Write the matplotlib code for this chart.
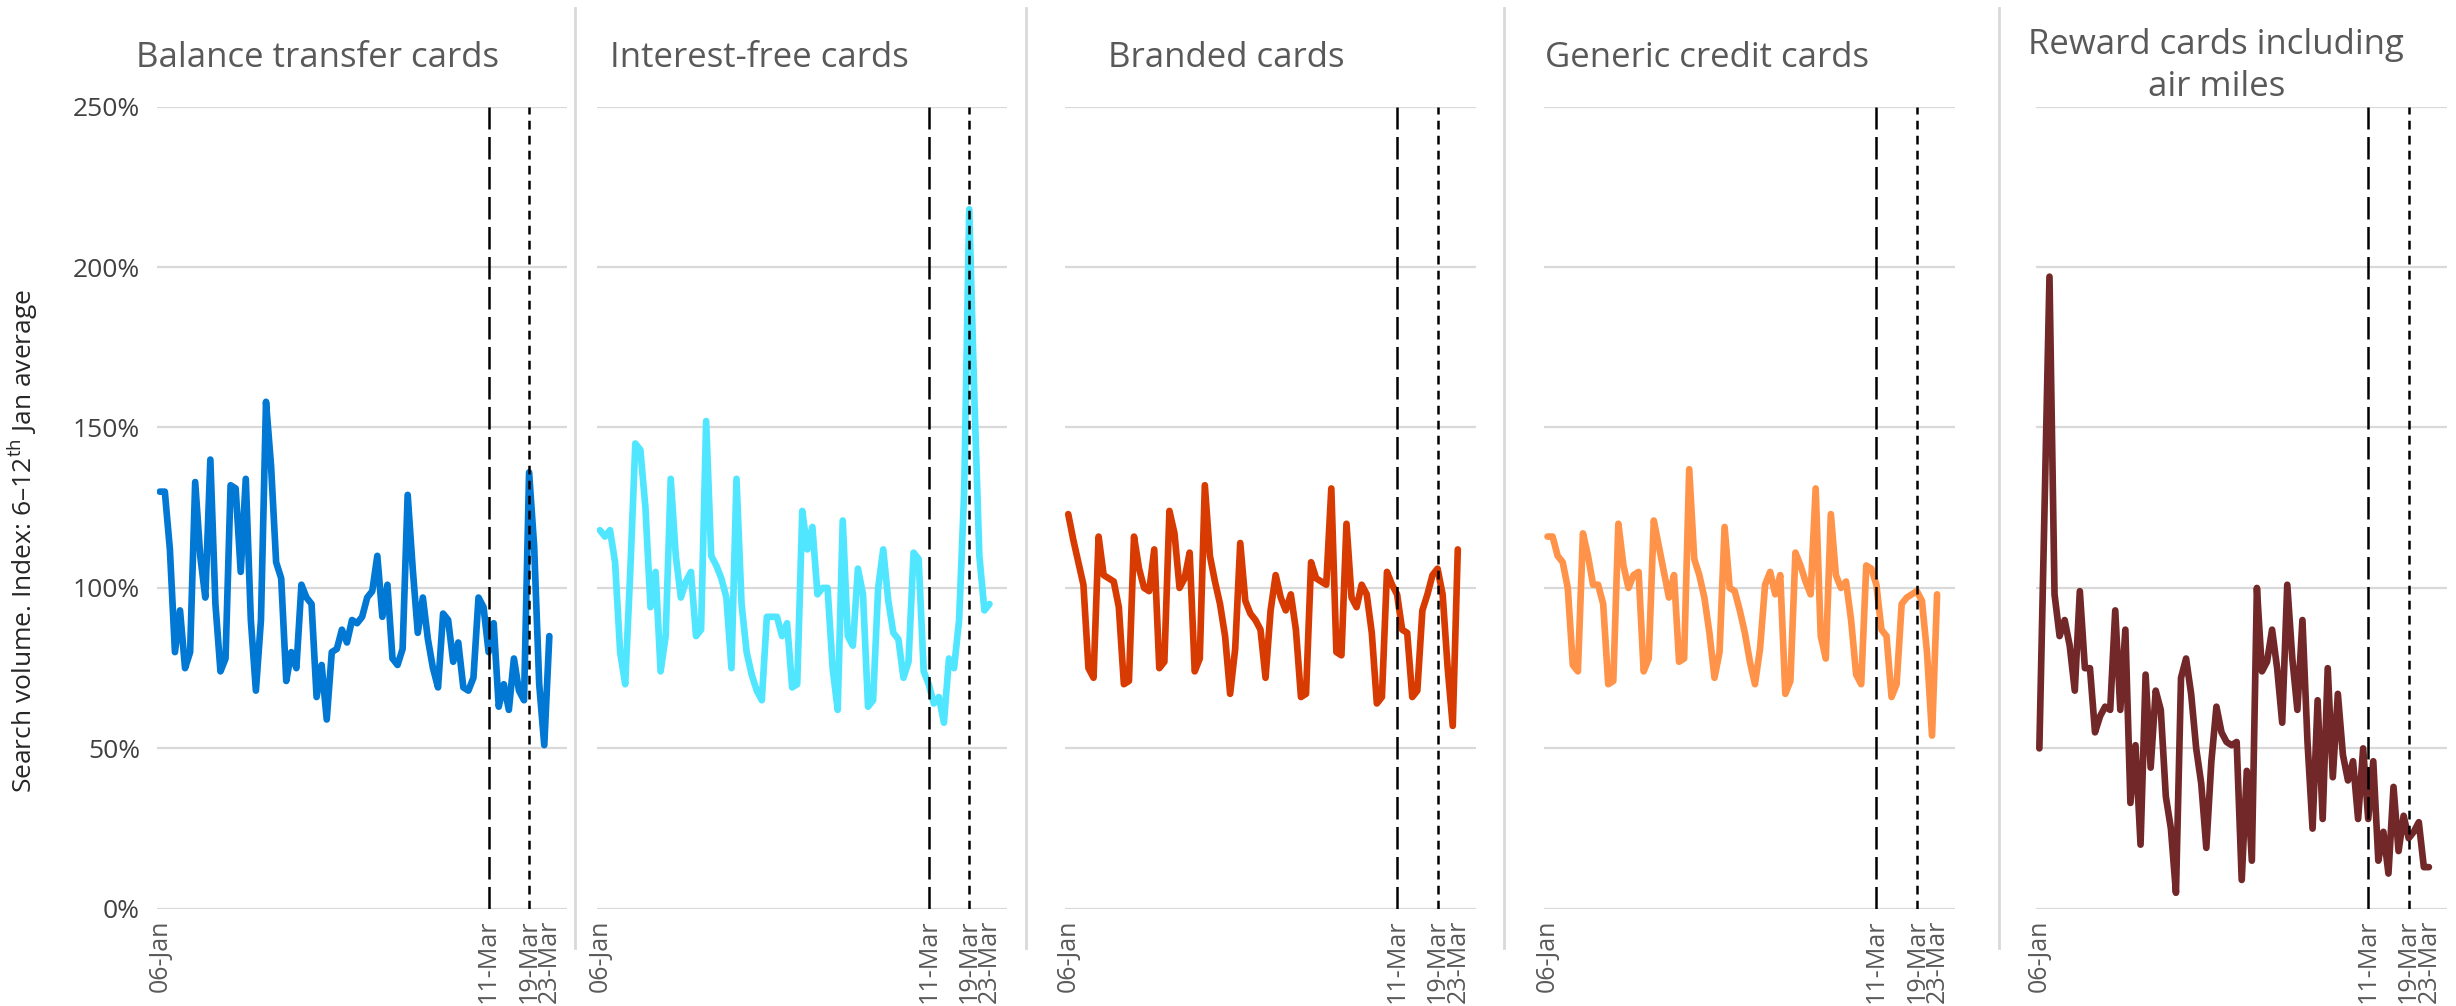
import numpy as np
import pandas as pd
import matplotlib
matplotlib.use("Agg")
from matplotlib import pyplot as plt
import matplotlib.dates as mdates
from matplotlib.lines import Line2D

plt.rcParams['font.family'] = ['Open Sans', 'DejaVu Sans']
plt.rcParams['mathtext.fontset'] = 'custom'
plt.rcParams['mathtext.rm'] = 'Open Sans'

#%% data (index, % of 6-12 Jan average), daily 06-Jan .. 23-Mar
dates = pd.date_range('2020-01-06', periods=78, freq='D')

balance_transfer = [130, 130, 112, 80, 93, 75, 80, 133, 110, 97,
                    140, 95, 74, 78, 132, 131, 105, 134, 90, 68,
                    90, 158, 138, 108, 103, 71, 80, 75, 101, 97,
                    95, 66, 76, 59, 80, 81, 87, 83, 90, 89,
                    91, 97, 99, 110, 91, 101, 78, 76, 81, 129,
                    106, 86, 97, 84, 75, 69, 92, 90, 77, 83,
                    69, 68, 72, 97, 94, 80, 89, 63, 70, 62,
                    78, 68, 65, 136, 113, 70, 51, 85]

interest_free = [118, 116, 118, 108, 80, 70, 105, 145, 143, 125,
                 94, 105, 74, 85, 134, 110, 97, 102, 105, 85,
                 87, 152, 110, 107, 103, 97, 75, 134, 95, 80,
                 73, 68, 65, 91, 91, 91, 85, 89, 69, 70,
                 124, 112, 119, 98, 100, 100, 75, 62, 121, 85,
                 82, 106, 98, 63, 65, 100, 112, 96, 86, 84,
                 72, 77, 111, 109, 74, 70, 64, 66, 58, 78,
                 75, 90, 130, 218, 160, 110, 93, 95]

branded = [123, 115, 108, 101, 75, 72, 116, 104, 103, 102,
           94, 70, 71, 116, 106, 100, 99, 112, 75, 77,
           124, 117, 100, 103, 111, 74, 78, 132, 110, 102,
           95, 85, 67, 81, 114, 96, 92, 90, 87, 72,
           93, 104, 97, 93, 98, 87, 66, 67, 108, 103,
           102, 101, 131, 80, 79, 120, 97, 94, 101, 98,
           86, 64, 66, 105, 101, 98, 87, 86, 66, 68,
           93, 98, 104, 106, 98, 75, 57, 112]

generic = [116, 116, 110, 108, 100, 76, 74, 117, 110, 101,
           101, 95, 70, 71, 120, 107, 100, 104, 105, 74,
           78, 121, 113, 105, 97, 104, 77, 78, 137, 109,
           104, 97, 86, 72, 80, 119, 100, 99, 93, 86,
           77, 70, 81, 101, 105, 98, 104, 67, 71, 111,
           107, 102, 98, 131, 85, 78, 123, 104, 100, 102,
           90, 73, 70, 107, 106, 101, 87, 85, 66, 70,
           95, 97, 98, 99, 96, 80, 54, 98]

reward = [50, 123, 197, 98, 85, 90, 82, 68, 99, 75,
          75, 55, 60, 63, 62, 93, 62, 87, 33, 51,
          20, 73, 44, 68, 62, 35, 25, 5, 72, 78,
          67, 50, 39, 19, 46, 63, 55, 52, 51, 52,
          9, 43, 15, 100, 74, 77, 87, 75, 58, 101,
          78, 62, 90, 52, 25, 65, 28, 75, 41, 67,
          48, 40, 46, 28, 50, 28, 46, 15, 24, 11,
          38, 18, 29, 22, 24, 27, 13, 13]

titles = ['Balance transfer cards', 'Interest-free cards', 'Branded cards',
          'Generic credit cards', 'Reward cards including\nair miles']
series = [balance_transfer, interest_free, branded, generic, reward]
colors = ['#0078D4', '#50E6FF', '#D83B01', '#FF9349', '#722828']

tick_dates = pd.to_datetime(['2020-01-06', '2020-03-11', '2020-03-19', '2020-03-23'])
line_dates = pd.to_datetime(['2020-03-11', '2020-03-19'])
yticks = [0, 50, 100, 150, 200, 250]

#%% layout (measured in a 1568x642 view of the target)
W, H = 1568.0, 642.0
first_x = [102, 383, 682, 988, 1302]   # pixel of 06-Jan
px_day = 3.23
title_x = [203, 485, 783, 1090, 1415]
title_y = [37, 37, 37, 37, 42]
sep_x = [367, 655, 960, 1276]

fig = plt.figure(figsize=(24.56, 10.06), dpi=100)
bottom = 1 - 580 / H
top = 1 - 68 / H
x_lo = dates[0] - pd.Timedelta(days=0.6)
x_hi = dates[0] + pd.Timedelta(days=80.5)

for k in range(5):
    left = (first_x[k] - 0.6 * px_day) / W
    width = 81.1 * px_day / W
    ax = fig.add_axes([left, bottom, width, top - bottom])
    for y in yticks:
        ax.axhline(y, color='#D9D9D9', lw=1.6, zorder=0)
    ax.plot(dates, series[k], color=colors[k], lw=4.8, solid_joinstyle='round',
            solid_capstyle='round', zorder=3)
    ax.axvline(line_dates[0], color='black', lw=1.8, dashes=(9, 3), zorder=4)
    ax.axvline(line_dates[1], color='black', lw=1.8, dashes=(3.5, 2.5), zorder=4)
    ax.set_xlim(x_lo, x_hi)
    ax.set_ylim(0, 250)
    for s in ax.spines.values():
        s.set_visible(False)
    ax.set_xticks(tick_dates)
    ax.xaxis.set_major_formatter(mdates.DateFormatter('%d-%b'))
    ax.tick_params(axis='x', length=0, pad=8, labelsize=18, labelcolor='#595959',
                   labelrotation=90)
    ax.set_yticks(yticks)
    if k == 0:
        ax.set_yticklabels([f'{v}%' for v in yticks])
        ax.tick_params(axis='y', length=0, pad=12, labelsize=19, labelcolor='#404040')
    else:
        ax.set_yticklabels([])
        ax.tick_params(axis='y', length=0)
    fig.text(title_x[k] / W, 1 - title_y[k] / H, titles[k], ha='center', va='center',
             fontsize=25, color='#595959', linespacing=1.3)

for x in sep_x:
    fig.add_artist(Line2D([x / W, x / W], [1 - 5 / H, 1 - 605 / H],
                          color='#D9D9D9', lw=2))

fig.text(15 / W, 1 - 345 / H, 'Search volume. Index: 6\u201312$^{\\mathrm{th}}$ Jan average',
         rotation=90, ha='center', va='center', fontsize=19, color='#262626')

plt.savefig('out.png', dpi=100)
